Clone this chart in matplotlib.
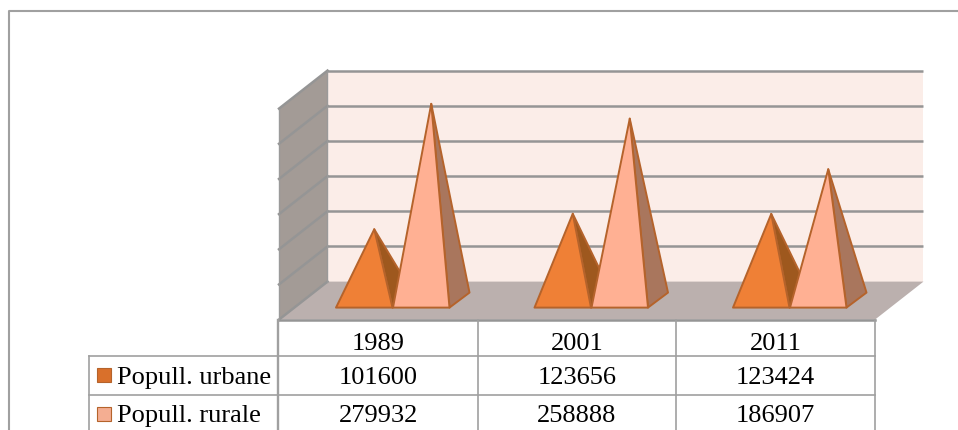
import numpy as np
import matplotlib
matplotlib.use('Agg')
import matplotlib.pyplot as plt
from matplotlib.patches import Polygon, Rectangle

years = ['1989', '2001', '2011']
urbane = [101600, 123656, 123424]
rurale = [279932, 258888, 186907]
series_names = ['Popull. urbane', 'Popull. rurale']
grid_values = [0, 50000, 100000, 150000, 200000, 250000, 300000]

plt.rcParams['font.family'] = ['Liberation Serif', 'DejaVu Serif']

# colours: front face, side face
URB = ('#EF8036', '#9E581E')
RUR = ('#FFB093', '#A9765D')
EDGE = '#B5632B'
GRID = '#959595'
TAB = '#A0A0A0'

# box geometry in figure pixels
x0, x1 = 279, 875      # front of the floor
y_front, y_back = 320, 282
dx, dy = 48.5, 38      # depth of the box
y_scale = (282 - 71) / 300000.0
col_w = (x1 - x0) / 3.0
rows = [320, 356, 395, 431]
x_leg = 89


def wall_y(v):
    return y_back - v * y_scale


def pyramid(ax, left, width, value, cols):
    # base sits at y 308, depth 20x15, apex over the middle of the base
    d_x, d_y = 20, 15
    base = 308
    right = left + width
    top = (left + width / 2 + d_x / 2, base - d_y / 2 + 0.6 - value * y_scale)
    ax.add_patch(Polygon([(right, base), (right + d_x, base - d_y), top],
                         fc=cols[1], ec=EDGE, lw=1.4, joinstyle='round', zorder=4))
    ax.add_patch(Polygon([(left, base), (right, base), top],
                         fc=cols[0], ec=EDGE, lw=1.4, joinstyle='round', zorder=4))


fig = plt.figure(figsize=(9.58, 4.31), dpi=100)
ax = fig.add_axes([0, 0, 1, 1])
ax.set_xlim(0, 958)
ax.set_ylim(430.4, -0.6)
ax.axis('off')

# outer chart frame
ax.plot([9, 9, 958], [431, 11.6, 11.6], color=TAB, lw=1.5, zorder=1)

# back wall, left wall, floor
ax.add_patch(Rectangle((x0 + dx, wall_y(300000)), x1 - x0, y_back - wall_y(300000),
                       fc='#FBEDE8', ec='none', zorder=1))
ax.add_patch(Polygon([(x0, y_front), (x0 + dx, y_back), (x0 + dx, wall_y(300000)),
                      (x0, wall_y(300000) + dy)], fc='#A39B96', ec='none', zorder=1))
ax.add_patch(Polygon([(x0, y_front), (x1, y_front), (x1 + dx, y_back), (x0 + dx, y_back)],
                     fc='#BBB0AE', ec='none', zorder=1))

# gridlines on both walls
for v in grid_values:
    y = wall_y(v)
    if v > 0:
        ax.plot([x0 + dx, x1 + dx], [y, y], color=GRID, lw=1.8, zorder=2, solid_capstyle='butt')
    ax.plot([x0, x0 + dx], [y + dy, y], color=GRID, lw=1.8, zorder=2)
ax.plot([x0, x1], [y_front, y_front], color=GRID, lw=1.8, zorder=3)
ax.plot([x0, x0], [wall_y(300000) + dy, y_front], color='#9A9A9A', lw=1, zorder=3)
ax.plot([x0 + dx, x0 + dx], [wall_y(300000), y_back], color='#9A9A9A', lw=1, zorder=3)

# pyramids
for i in range(len(years)):
    left = 279 + i * 198.5 + 57
    pyramid(ax, left, 56.5, urbane[i], URB)
    pyramid(ax, left + 57, 56.5, rurale[i], RUR)

# data table lines
for r in rows[1:3]:
    ax.plot([x_leg, x1], [r, r], color=TAB, lw=1.2, zorder=3)
ax.plot([x_leg, x_leg], [rows[1], rows[3]], color=TAB, lw=1.2, zorder=3)
for i in range(4):
    # the column next to the legend is drawn a little heavier
    ax.plot([x0 + i * col_w - (0.5 if i == 0 else 0)] * 2, [rows[0], rows[3]], color=TAB,
            lw=1.7 if i == 0 else 1.2, zorder=3)

# table text
FS = 19
for i, yr in enumerate(years):
    xc = x0 + (i + 0.5) * col_w
    ax.text(xc, 349, yr, ha='center', va='baseline', fontsize=FS, color='black')
    ax.text(xc, 383, str(urbane[i]), ha='center', va='baseline', fontsize=FS, color='black')
    ax.text(xc, 421, str(rurale[i]), ha='center', va='baseline', fontsize=FS, color='black')

# legend keys inside the table
for name, y_key, y_txt, fc in zip(series_names, [368, 407], [383, 421], ['#D9702B', '#F4AE92']):
    ax.add_patch(Rectangle((97.5, y_key), 14, 14, fc=fc, ec=EDGE, lw=0.8, zorder=4))
    ax.text(117, y_txt, name, ha='left', va='baseline', fontsize=FS, color='black')

fig.savefig('out.png', dpi=100)
